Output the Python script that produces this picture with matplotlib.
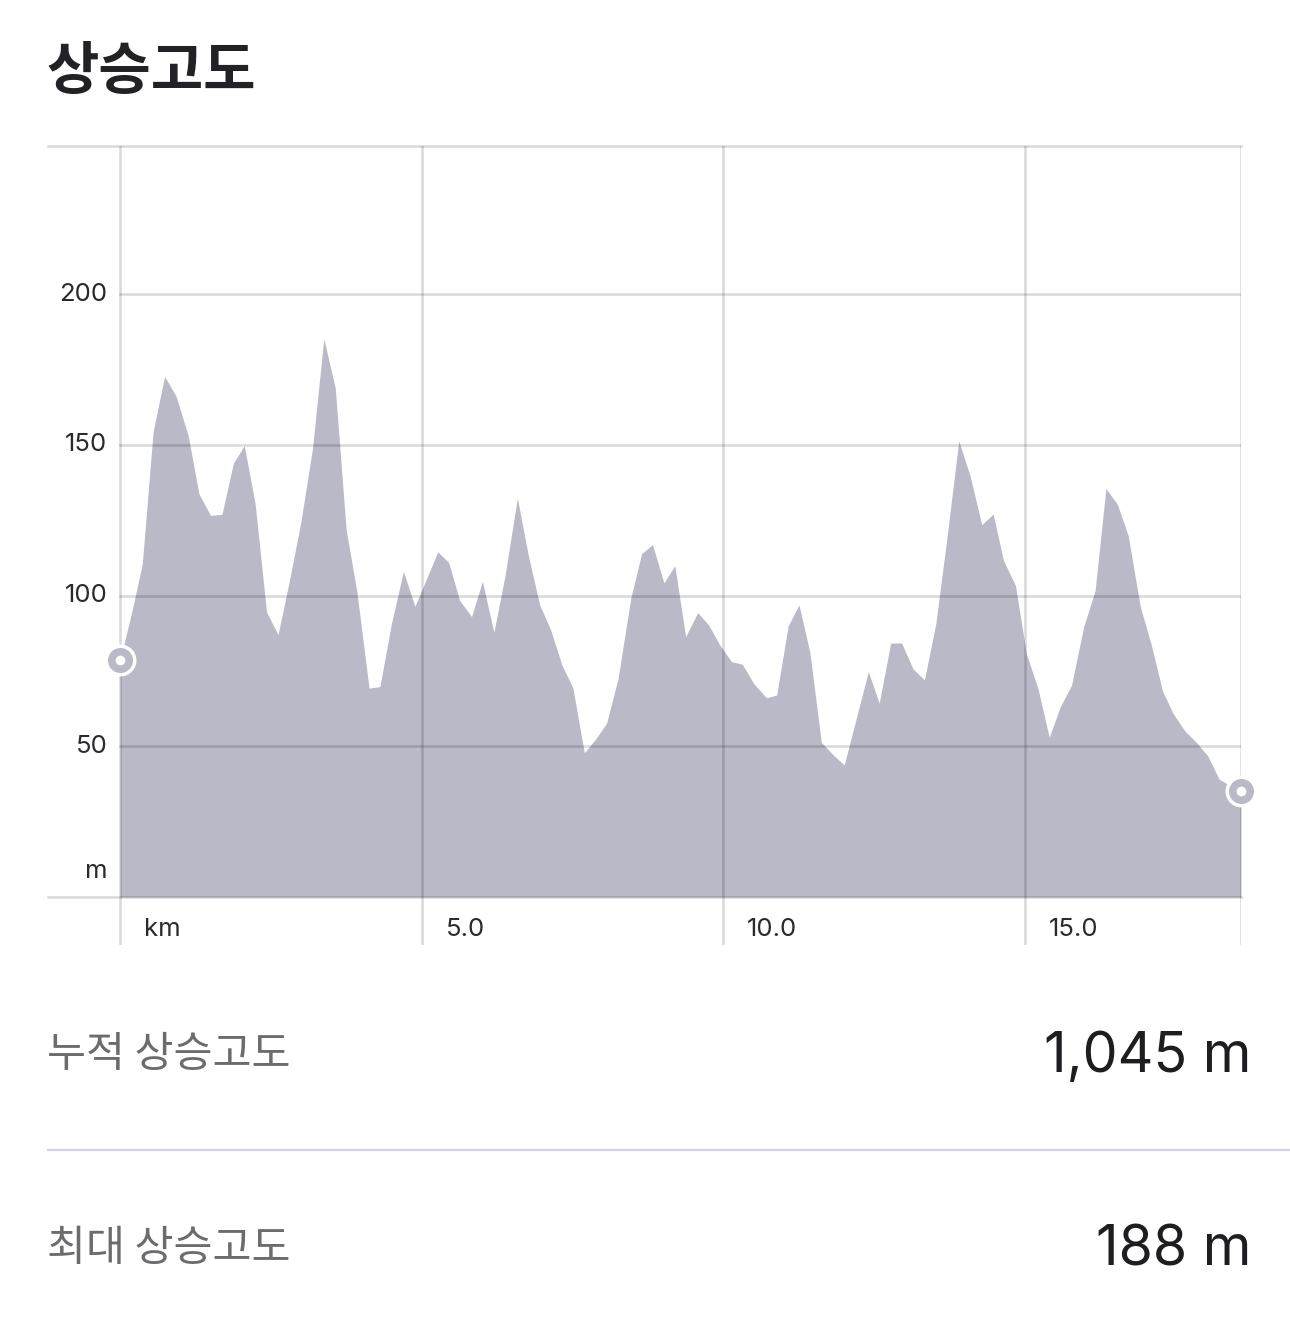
import matplotlib
matplotlib.use("Agg")
from matplotlib import pyplot as plt

# elevation profile (distance in km, elevation in m)
dist_km = [0.00, 0.21, 0.37, 0.55, 0.74, 0.93, 1.13, 1.31, 1.50, 1.69,
           1.88, 2.06, 2.24, 2.43, 2.62, 2.81, 3.00, 3.19, 3.38, 3.57,
           3.75, 3.93, 4.13, 4.31, 4.50, 4.70, 4.89, 5.08, 5.27, 5.45,
           5.63, 5.83, 6.01, 6.20, 6.38, 6.59, 6.77, 6.96, 7.14, 7.33,
           7.51, 7.70, 7.89, 8.07, 8.26, 8.47, 8.65, 8.83, 9.02, 9.20,
           9.38, 9.58, 9.76, 9.94, 10.14, 10.32, 10.51, 10.72, 10.89, 11.08,
           11.26, 11.44, 11.63, 11.82, 12.01, 12.41, 12.59, 12.78, 12.96, 13.15,
           13.34, 13.53, 13.71, 13.91, 14.10, 14.29, 14.48, 14.65, 14.85, 15.03,
           15.22, 15.41, 15.59, 15.78, 15.98, 16.17, 16.35, 16.54, 16.72, 16.92,
           17.10, 17.29, 17.47, 17.66, 17.85, 18.04, 18.23, 18.59]
elev_m = [78.5, 95.8, 110.6, 154.5, 172.7, 166.1, 153.1, 133.7, 126.6, 126.9,
          143.9, 149.7, 130.6, 94.6, 87.0, 105.0, 124.5, 148.4, 185.2, 168.8,
          121.9, 101.0, 69.3, 69.8, 90.6, 108.0, 96.4, 105.4, 114.5, 111.0,
          98.5, 93.0, 104.7, 87.8, 106.1, 132.3, 113.4, 96.9, 88.7, 76.9,
          69.4, 47.8, 52.5, 57.7, 72.5, 99.1, 113.9, 116.9, 104.2, 109.9,
          86.4, 94.3, 90.3, 83.8, 78.1, 77.2, 70.8, 66.1, 67.0, 89.9,
          96.9, 81.2, 51.3, 47.3, 43.8, 74.8, 64.3, 84.2, 84.3, 75.7,
          72.0, 90.8, 118.6, 151.3, 139.5, 123.5, 127.0, 111.7, 103.3, 80.7,
          69.4, 53.0, 63.0, 70.3, 89.6, 101.6, 135.5, 130.3, 119.8, 96.3,
          83.8, 68.2, 60.7, 55.1, 51.3, 46.8, 39.0, 35.1]

x_ticks = [0, 5, 10, 15]
x_labels = ["km", "5.0", "10.0", "15.0"]
y_ticks = [50, 100, 150, 200]
y_labels = ["50", "100", "150", "200"]

title = "상승고도"
stat_names = ["누적 상승고도", "최대 상승고도"]
stat_values = ["1,045 m", "188 m"]

W, H = 1290, 1339
FILL = "#b9b9c7"
GRID = (0, 0, 0, 0.15)
KR = ["Noto Sans CJK KR", "DejaVu Sans"]
NUM = ["Inter", "DejaVu Sans"]


def fx(x):
    return x / W


def fy(y):
    return 1 - y / H


fig = plt.figure(figsize=(W / 100, H / 100), dpi=100)
fig.patch.set_facecolor("white")

ax = fig.add_axes([fx(48), fy(945), (1241 - 48) / W, (945 - 146) / H])
x_end = dist_km[-1]
ax.set_xlim(-1.194, x_end)
ax.set_ylim(-15.9, 249.1)
ax.axis("off")

ax.fill_between(dist_km, elev_m, 0, color=FILL, lw=0, zorder=1)

# grid
for xv in x_ticks + [x_end]:
    ax.axvline(xv, color=GRID, lw=1.8, zorder=2)
for yv in y_ticks:
    ax.plot([0, x_end], [yv, yv], color=GRID, lw=1.8, zorder=2)
for yv in [0, 249.1]:
    ax.plot([-1.194, x_end], [yv, yv], color=GRID, lw=1.8, zorder=2, clip_on=False)

# tick labels
for yv, lab in zip(y_ticks, y_labels):
    ax.text(-0.21, yv, lab, ha="right", va="center", fontsize=18.5,
            color="#2a2a2e", family=NUM)
ax.text(-0.21, 8.5, "m", ha="right", va="center", fontsize=18.5,
        color="#2a2a2e", family=NUM)
for xv, lab in zip(x_ticks, x_labels):
    ax.text(xv + 0.40, -10.9, lab, ha="left", va="center", fontsize=18.5,
            color="#2a2a2e", family=NUM)

# start / end markers
for i in [0, -1]:
    ax.plot(dist_km[i], elev_m[i], "o", ms=23, mfc="white", mec="none",
            zorder=4, clip_on=False)
    ax.plot(dist_km[i], elev_m[i], "o", ms=18, mfc=FILL, mec="none",
            zorder=5, clip_on=False)
    ax.plot(dist_km[i], elev_m[i], "o", ms=7, mfc="white", mec="none",
            zorder=6, clip_on=False)

# title
fig.text(fx(46), fy(72), title, ha="left", va="center", fontsize=41,
         fontweight="bold", color="#222226", family=KR)

# summary rows
rows_y = [1055, 1249]
for yv, name, val in zip(rows_y, stat_names, stat_values):
    fig.text(fx(47), fy(yv), name, ha="left", va="center", fontsize=30.5,
             color="#6b6b70", family=KR)
    fig.text(fx(1251), fy(yv + 2), val, ha="right", va="center", fontsize=40,
             color="#1e1e22", family=NUM)

fig.add_artist(plt.Line2D([fx(48), 1.0], [fy(1150), fy(1150)],
                          color="#d3d3e3", lw=1.6))

fig.savefig("out.png", dpi=100, facecolor="white")
